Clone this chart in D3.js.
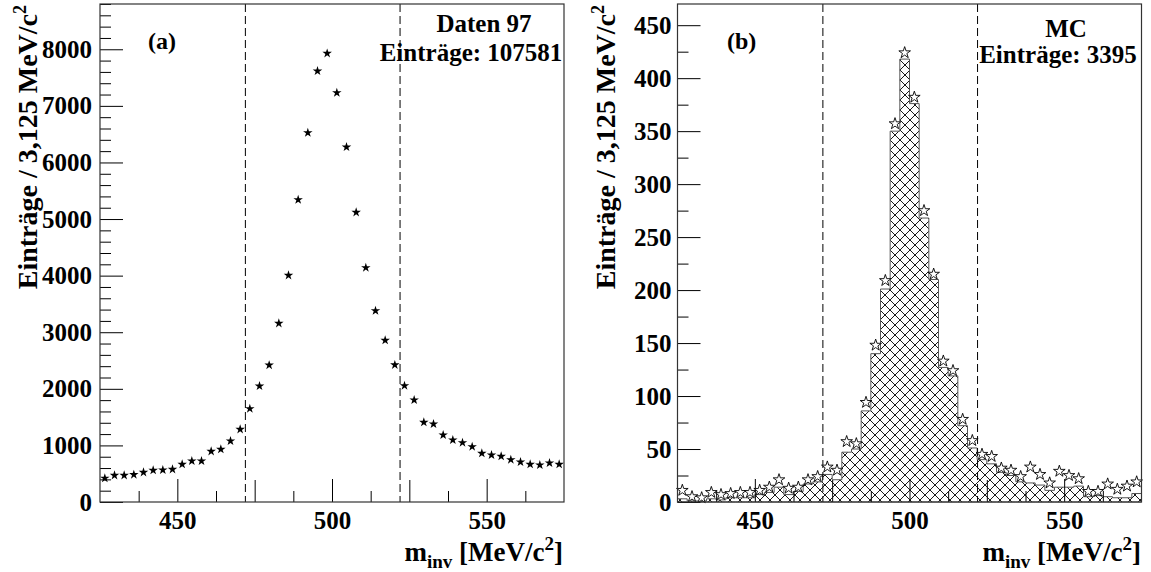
<!DOCTYPE html>
<html>
<head>
<meta charset="utf-8">
<script src="https://cdn.jsdelivr.net/npm/d3@7"></script>
<style>
  body { margin: 0; background: #fff; }
  svg { display: block; }
  text { font-family: "Liberation Serif", "Times New Roman", serif; font-weight: bold; fill: #000; }
</style>
</head>
<body>
<svg id="chart" width="1151" height="572"></svg>
<script>
// bins: 48 bins of 3,125 MeV from 425 to 575
const binStart = 425;
const binWidth = 3.125;
const cutLines = [472, 522];

// (a) Daten 97
const dataCounts = [420, 471, 471, 483, 524, 560, 565, 577, 666, 724, 724, 895,
  931, 1078, 1284, 1649, 2049, 2418, 3157, 4005, 5341, 6525, 7615, 7927,
  7232, 6272, 5118, 4140, 3380, 2857, 2423, 2055, 1802, 1408, 1378, 1184,
  1095, 1048, 977, 860, 830, 807, 748, 707, 666, 654, 689, 666];

// (b) MC histogram and stars
const mcCounts = [3, 1, 1, 3, 2, 4, 4, 4, 7, 9, 14, 7,
  10, 17, 19, 26, 21, 47, 50, 86, 140, 201, 350, 418,
  376, 268, 210, 127, 119, 72, 51, 40, 36, 28, 25, 19,
  18, 16, 11, 14, 14, 15, 5, 6, 5, 4, 4, 8];
const mcStars = [11, 5, 4, 9, 7, 8, 9, 9, 11, 14, 21, 13,
  14, 21, 24, 33, 30, 57, 55, 94, 148, 209, 357, 424,
  382, 275, 215, 133, 124, 78, 58, 45, 43, 32, 30, 24,
  33, 26, 18, 29, 25, 22, 10, 10, 17, 12, 15, 19];

const xMajor = [450, 500, 550];
const leftYMajor = d3.range(0, 8001, 1000);
const rightYMajor = d3.range(0, 451, 50);

const svg = d3.select("#chart");

// hatch pattern for MC histogram
svg.append("defs").append("pattern")
    .attr("id", "hatch")
    .attr("patternUnits", "userSpaceOnUse")
    .attr("width", 10).attr("height", 10)
    .append("path").attr("d", "M0,0L10,10M10,0L0,10")
    .attr("stroke", "#000").attr("stroke-width", 0.9);

function panel(opt) {
  const x = d3.scaleLinear().domain([425, 575]).range([opt.x0, opt.x1]);
  const y = d3.scaleLinear().domain([0, opt.ymax]).range([502, 4]);
  const g = svg.append("g");

  // x axis: 50 major, 25 secondary, 12.5 minor
  g.append("g").attr("transform", "translate(0,502)")
    .call(d3.axisBottom(x).tickValues(d3.range(437.5, 575, 12.5).filter(v => v % 25 !== 0))
      .tickSizeInner(-11).tickSizeOuter(0).tickFormat(""));
  g.append("g").attr("transform", "translate(0,502)")
    .call(d3.axisBottom(x).tickValues([475, 525]).tickSizeInner(-22).tickSizeOuter(0).tickFormat(""));
  g.append("g").attr("transform", "translate(0,502)")
    .call(d3.axisBottom(x).tickValues(xMajor).tickSizeInner(-23).tickSizeOuter(0).tickPadding(9))
    .call(a => a.selectAll("text").style("font-size", "25px"));

  // y axis
  g.append("g").attr("transform", `translate(${opt.x0},0)`)
    .call(d3.axisLeft(y).tickValues(opt.yMinor).tickSizeInner(-11).tickSizeOuter(0).tickFormat(""));
  g.append("g").attr("transform", `translate(${opt.x0},0)`)
    .call(d3.axisLeft(y).tickValues(opt.yMajor).tickSizeInner(-23).tickSizeOuter(0)
      .tickPadding(opt.pad).tickFormat(d3.format("d")))
    .call(a => a.selectAll("text").style("font-size", "25px"));

  svg.selectAll(".domain").remove();
  g.selectAll(".tick line").attr("stroke", "#000");

  return { x, y, g };
}

// ---------- (a) ----------
const A = panel({ x0: 100, x1: 564, ymax: 8800, yMajor: leftYMajor,
  yMinor: d3.range(0, 8801, 200).filter(v => v % 1000 !== 0), pad: 8 });

A.g.selectAll(".cut").data(cutLines).join("line")
  .attr("x1", d => A.x(d)).attr("x2", d => A.x(d))
  .attr("y1", 4).attr("y2", 502)
  .attr("stroke", "#000").attr("stroke-dasharray", "8,4");

A.g.selectAll(".pt").data(dataCounts).join("path")
  .attr("transform", (d, i) => `translate(${A.x(binStart + (i + 0.5) * binWidth)},${A.y(d)})`)
  .attr("d", d3.symbol(d3.symbolStar, 28))
  .attr("fill", "#000");

A.g.append("rect").attr("x", 100).attr("y", 4).attr("width", 464).attr("height", 498)
  .attr("fill", "none").attr("stroke", "#333").attr("stroke-width", 1.2);

// ---------- (b) ----------
const B = panel({ x0: 677.5, x1: 1141.5, ymax: 470, yMajor: rightYMajor,
  yMinor: d3.range(25, 470, 50), pad: 6 });

const steps = mcCounts.map((c, i) => [binStart + i * binWidth, c]);
steps.push([575, mcCounts[mcCounts.length - 1]]);

B.g.insert("path", ":first-child").datum(steps)
  .attr("d", d3.area().curve(d3.curveStepAfter)
    .x(d => B.x(d[0])).y0(B.y(0)).y1(d => B.y(d[1])))
  .attr("fill", "url(#hatch)")
  .attr("stroke", "#555").attr("stroke-width", 1);

B.g.selectAll(".cut").data(cutLines).join("line")
  .attr("x1", d => B.x(d)).attr("x2", d => B.x(d))
  .attr("y1", 4).attr("y2", 502)
  .attr("stroke", "#000").attr("stroke-dasharray", "8,4");

B.g.selectAll(".pt").data(mcStars).join("path")
  .attr("transform", (d, i) => `translate(${B.x(binStart + (i + 0.5) * binWidth)},${B.y(d)})`)
  .attr("d", d3.symbol(d3.symbolStar, 42))
  .attr("fill", "#fff").attr("stroke", "#000").attr("stroke-width", 0.9);

B.g.append("rect").attr("x", 677.5).attr("y", 4).attr("width", 464).attr("height", 498)
  .attr("fill", "none").attr("stroke", "#333").attr("stroke-width", 1.2);

// ---------- texts ----------
function yTitle(xPos) {
  const t = svg.append("text")
    .attr("transform", `translate(${xPos},5) rotate(-90)`)
    .attr("text-anchor", "end").style("font-size", "28px");
  t.append("tspan").text("Einträge / 3,125 MeV/c");
  t.append("tspan").attr("dy", -11).style("font-size", "18px").text("2");
}
function xTitle(xRight) {
  const t = svg.append("text")
    .attr("x", xRight).attr("y", 561)
    .attr("text-anchor", "end").style("font-size", "27px");
  t.append("tspan").text("m");
  t.append("tspan").attr("dy", 7).style("font-size", "19px").text("inv");
  t.append("tspan").attr("dy", -7).text(" [MeV/c");
  t.append("tspan").attr("dy", -11).style("font-size", "19px").text("2");
  t.append("tspan").attr("dy", 11).text("]");
}
yTitle(37);
yTitle(615);
xTitle(563);
xTitle(1141);

svg.append("text").attr("x", 148).attr("y", 49).style("font-size", "24px").text("(a)");
svg.append("text").attr("x", 727).attr("y", 49).style("font-size", "24px").text("(b)");

svg.append("text").attr("x", 484).attr("y", 32).attr("text-anchor", "middle").style("font-size", "25px").text("Daten 97");
svg.append("text").attr("x", 471).attr("y", 61).attr("text-anchor", "middle").style("font-size", "25px").text("Einträge: 107581");
svg.append("text").attr("x", 1066).attr("y", 37).attr("text-anchor", "middle").style("font-size", "25px").text("MC");
svg.append("text").attr("x", 1058).attr("y", 63).attr("text-anchor", "middle").style("font-size", "25px").text("Einträge: 3395");
</script>
</body>
</html>
